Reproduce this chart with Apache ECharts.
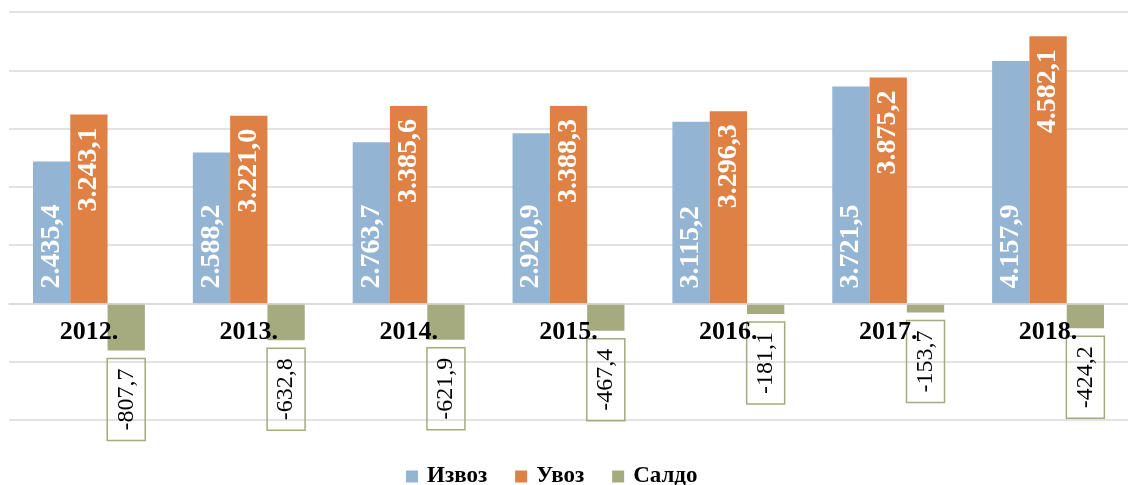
<!DOCTYPE html>
<html>
<head>
<meta charset="utf-8">
<script src="https://cdn.jsdelivr.net/npm/echarts@6/dist/echarts.min.js"></script>
<style>
  html, body { margin: 0; padding: 0; background: #fff; }
  #chart { width: 1128px; height: 485px; }
</style>
</head>
<body>
<div id="chart"></div>
<script>
// Trade by year, in millions
const years = ['2012.', '2013.', '2014.', '2015.', '2016.', '2017.', '2018.'];
const exportsVals = [2435.4, 2588.2, 2763.7, 2920.9, 3115.2, 3721.5, 4157.9];
const importsVals = [3243.1, 3221.0, 3385.6, 3388.3, 3296.3, 3875.2, 4582.1];
const balanceVals = [-807.7, -632.8, -621.9, -467.4, -181.1, -153.7, -424.2];
const seriesNames = ['Извоз', 'Увоз', 'Салдо'];

const SERIF = '"Liberation Serif", "Times New Roman", serif';
const COLORS = ['#94B4D4', '#DF8044', '#A5AA7F'];

const Y_MIN = -2000, Y_MAX = 5000;
const GRID_TOP = 12, GRID_BOTTOM = 65, CHART_H = 485;

// 2435.4 -> "2.435,4"
function fmt(v) {
  const neg = v < 0;
  const parts = Math.abs(v).toFixed(1).split('.');
  const intPart = parts[0].replace(/\B(?=(\d{3})+(?!\d))/g, '.');
  return (neg ? '-' : '') + intPart + ',' + parts[1];
}

// pull the category axis up from the grid bottom to the zero line
const plotH = CHART_H - GRID_TOP - GRID_BOTTOM;
const zeroOffset = -plotH * (0 - Y_MIN) / (Y_MAX - Y_MIN);

const barLabel = {
  show: true,
  rotate: 90,
  color: '#fff',
  fontFamily: SERIF,
  fontWeight: 'bold',
  fontSize: 28,
  verticalAlign: 'middle',
  formatter: p => fmt(p.value)
};

const chart = echarts.init(document.getElementById('chart'));
chart.setOption({
  animation: false,
  color: COLORS,
  grid: { left: 9, right: -2, top: GRID_TOP, bottom: GRID_BOTTOM },
  legend: {
    top: 465,
    left: 406,
    padding: 0,
    itemWidth: 12,
    itemHeight: 12,
    itemGap: 28,
    icon: 'rect',
    textStyle: {
      fontFamily: SERIF, fontWeight: 'bold', fontSize: 23, color: '#000',
      padding: [0, 0, 0, 4]
    },
    data: seriesNames
  },
  xAxis: {
    type: 'category',
    data: years,
    z: 5,
    position: 'bottom',
    offset: zeroOffset,
    axisLine: { onZero: false, lineStyle: { color: '#d9d9d9', width: 1.5 } },
    axisTick: { show: false },
    axisLabel: {
      margin: 16,
      color: '#000',
      fontFamily: SERIF,
      fontWeight: 'bold',
      fontSize: 26
    }
  },
  yAxis: {
    type: 'value',
    min: Y_MIN,
    max: Y_MAX,
    interval: 1000,
    axisLabel: { show: false },
    axisLine: { show: false },
    axisTick: { show: false },
    splitLine: { lineStyle: { color: '#d9d9d9', width: 1.5 } }
  },
  series: [
    {
      name: seriesNames[0],
      type: 'bar',
      data: exportsVals,
      barGap: '0%',
      barCategoryGap: '30%',
      label: Object.assign({}, barLabel, { position: 'insideBottom', align: 'left', distance: 15 })
    },
    {
      name: seriesNames[1],
      type: 'bar',
      data: importsVals,
      label: Object.assign({}, barLabel, { position: 'insideTop', align: 'right', distance: 13 })
    },
    {
      name: seriesNames[2],
      type: 'bar',
      data: balanceVals,
      label: {
        show: true,
        position: 'bottom',
        distance: 8,
        rotate: 90,
        align: 'right',
        verticalAlign: 'middle',
        color: '#000',
        fontFamily: SERIF,
        fontSize: 24,
        borderColor: COLORS[2],
        borderWidth: 1.5,
        padding: [7, 10, 7, 10],
        formatter: p => fmt(p.value)
      }
    }
  ]
});
</script>
</body>
</html>
